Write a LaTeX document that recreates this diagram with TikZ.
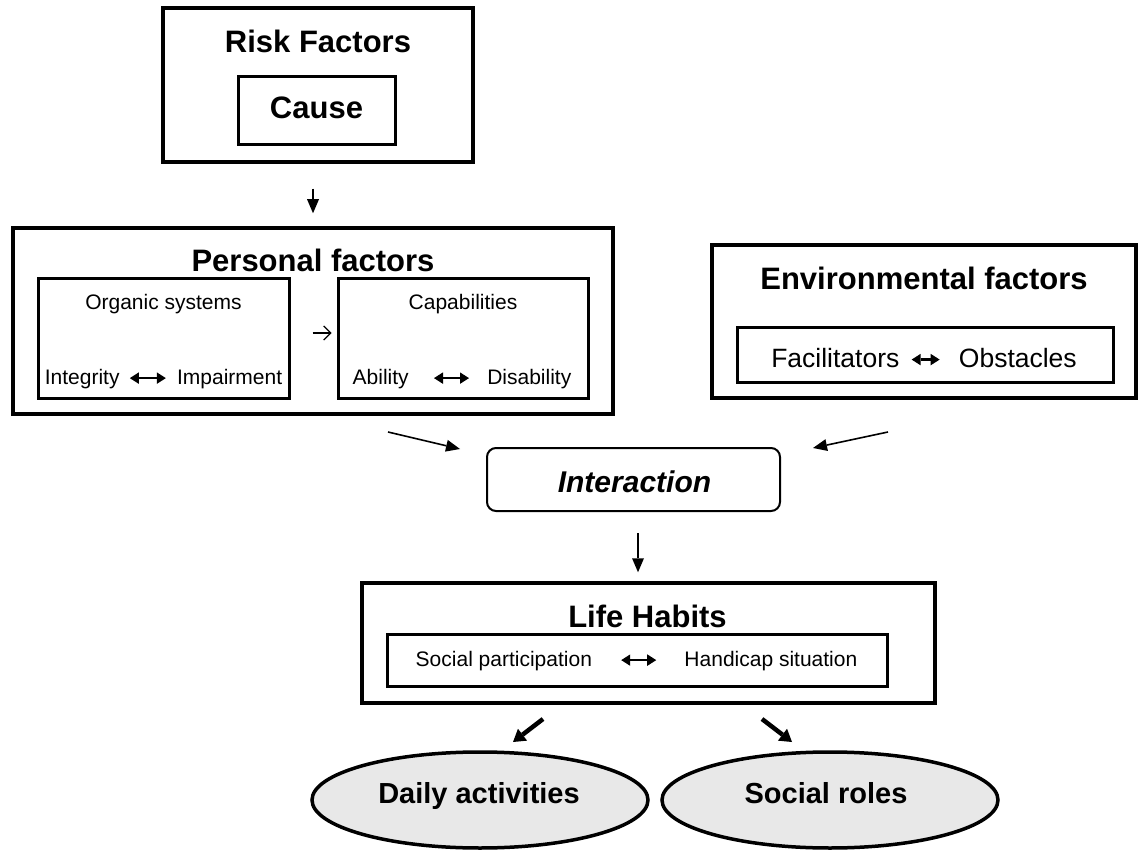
\documentclass[tikz,border=0pt]{standalone}
\usepackage{fontspec}
\setmainfont{Liberation Sans}
\usetikzlibrary{arrows.meta,shapes.geometric,calc}
\definecolor{ellgray}{HTML}{E8E8E8}
\newcommand{\dblarr}[1][34]{\tikz[baseline=-0.28em]\draw[line width=2.5pt,{Triangle[length=9pt,width=11.5pt,line width=0pt]}-{Triangle[length=9pt,width=11.5pt,line width=0pt]}] (0pt,0pt) -- (#1pt,0pt);}
\begin{document}
\begin{tikzpicture}[x=1pt,y=-1pt,
  outerbox/.style={draw, line width=3.5pt, rectangle, inner sep=0pt},
  innerbox/.style={draw, line width=3pt, rectangle, inner sep=0pt},
  interbox/.style={draw, line width=2pt, rectangle, rounded corners=9pt, inner sep=0pt},
  ell/.style={draw, line width=3.5pt, ellipse, fill=ellgray, inner sep=0pt},
  bigtitle/.style={anchor=base, inner sep=0pt, font=\fontsize{31}{36}\selectfont\bfseries},
  medtext/.style={anchor=base, inner sep=0pt, font=\fontsize{26.5}{31}\selectfont},
  smalltext/.style={anchor=base, inner sep=0pt, font=\fontsize{21}{25}\selectfont},
  thinarr/.style={line width=1.6pt, -{Triangle[length=14pt,width=12pt,line width=0pt]}},
  fatarr/.style={line width=4.5pt, -{Triangle[length=12pt,width=15pt,line width=0pt]}},
  openarr/.style={line width=1.2pt, -{Straight Barb[length=7pt,width=14pt]}}
]
\useasboundingbox (0,0) rectangle (1138,850);

% Risk factors
\node[outerbox, minimum width=310pt, minimum height=154pt] (risk) at (318,85) {};
\node[bigtitle] (risktitle) at (318,53) {Risk Factors};
\node[outerbox, line width=3pt, minimum width=157pt, minimum height=68pt] (cause) at (316.5,111) {};
\node[bigtitle] (causetext) at (316.5,119) {Cause};

% Personal factors
\node[outerbox, minimum width=600pt, minimum height=186pt] (pers) at (313,321) {};
\node[bigtitle] (perstitle) at (313,272) {Personal factors};
\node[innerbox, minimum width=251pt, minimum height=119pt] (org) at (163.5,338.5) {};
\node[smalltext] (orgtitle) at (163.5,310) {Organic systems};
\node[smalltext] (orgrow) at (163.5,384) {Integrity\hspace{9pt}\dblarr[36]\hspace{10pt}Impairment};
\node[innerbox, minimum width=250pt, minimum height=119pt] (cap) at (463,338.5) {};
\node[smalltext] (captitle) at (463,310) {Capabilities};
\node[smalltext] (caprow) at (462,384) {Ability\hspace{24pt}\dblarr[35]\hspace{17pt}Disability};

% Environmental factors
\node[outerbox, minimum width=424pt, minimum height=153pt] (env) at (924,321.5) {};
\node[bigtitle] (envtitle) at (924,290) {Environmental factors};
\node[innerbox, minimum width=376pt, minimum height=54pt] (envin) at (925,355) {};
\node[medtext] (envrow) at (924,367) {Facilitators\hspace{11pt}\dblarr[28]\hspace{18pt}Obstacles};

% Interaction
\node[interbox, minimum width=293pt, minimum height=63pt] (inter) at (633.5,479.5) {};
\node[anchor=base, inner sep=0pt, font=\fontsize{30}{35}\selectfont\bfseries\itshape] (intertext) at (634.5,492) {Interaction};

% Life habits
\node[outerbox, minimum width=573pt, minimum height=120pt] (life) at (648.5,643) {};
\node[bigtitle] (lifetitle) at (647.5,627) {Life Habits};
\node[innerbox, minimum width=500pt, minimum height=52pt] (lifein) at (637,660) {};
\node[smalltext] (liferow) at (636.5,666) {Social participation\hspace{28pt}\dblarr[35]\hspace{27pt}Handicap situation};

% Outcomes
\node[ell, minimum width=336pt, minimum height=96pt] (daily) at (480,800) {};
\node[anchor=base, inner sep=0pt, font=\fontsize{29}{34}\selectfont\bfseries] (dailytext) at (479,803) {Daily activities};
\node[ell, minimum width=336pt, minimum height=96pt] (social) at (830,800) {};
\node[anchor=base, inner sep=0pt, font=\fontsize{29}{34}\selectfont\bfseries] (socialtext) at (826,803) {Social roles};

% Connectors
\draw[thinarr, shorten <=25pt, shorten >=13pt] (pers.north |- risk.south) -- (pers.north);
\draw[openarr, shorten <=22pt, shorten >=5pt] ([yshift=5.5pt]org.east) -- ([yshift=5.5pt]cap.west);

\coordinate (pl) at (388,432);
\coordinate (pli) at (460,449);
\draw[thinarr] (pl) -- (pli);
\coordinate (el) at (888,432);
\coordinate (eli) at (813,448);
\draw[thinarr] (el) -- (eli);

\draw[thinarr, shorten <=21pt, shorten >=9pt] ($(inter.south)+(4.5,0)$) coordinate (d1) -- (d1 |- life.north);

\coordinate (la) at (543,719);
\coordinate (lat) at (513,742);
\draw[fatarr] (la) -- (lat);
\coordinate (ra) at (762,719);
\coordinate (rat) at (792,742);
\draw[fatarr] (ra) -- (rat);
\end{tikzpicture}
\end{document}
